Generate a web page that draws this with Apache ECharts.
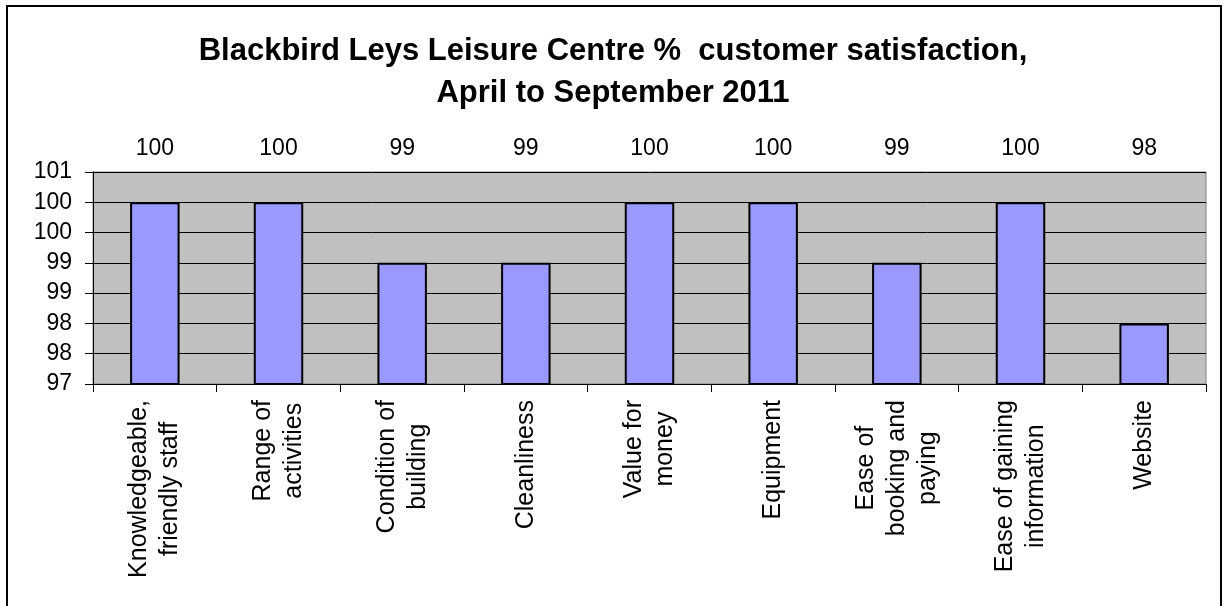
<!DOCTYPE html>
<html>
<head>
<meta charset="utf-8">
<script src="https://cdn.jsdelivr.net/npm/echarts@6/dist/echarts.min.js"></script>
<style>
  html, body { margin: 0; padding: 0; background: #fff; }
  #chart { width: 1226px; height: 606px; }
</style>
</head>
<body>
<div id="chart"></div>
<script>
const categories = [
  'Knowledgeable,\nfriendly staff',
  'Range of\nactivities',
  'Condition of\nbuilding',
  'Cleanliness',
  'Value for\nmoney',
  'Equipment',
  'Ease of\nbooking and\npaying',
  'Ease of gaining\ninformation',
  'Website'
];
const satisfaction = [100, 100, 99, 99, 100, 100, 99, 100, 98];
const yMin = 97;
const yMax = 100.5;
const yStep = 0.5;

const font = "'Liberation Sans', Arial, sans-serif";

const chart = echarts.init(document.getElementById('chart'));

const option = {
  animation: false,
  backgroundColor: '#fff',
  title: {
    text: 'Blackbird Leys Leisure Centre %  customer satisfaction,\nApril to September 2011',
    left: 'center',
    top: 25,
    textStyle: {
      fontFamily: font,
      fontSize: 31,
      fontWeight: 'bold',
      color: '#000',
      lineHeight: 42
    }
  },
  graphic: [
    {
      type: 'rect',
      shape: { x: 7, y: 6, width: 1214, height: 640 },
      style: { fill: 'none', stroke: '#000', lineWidth: 2 },
      silent: true
    }
  ],
  grid: {
    left: 93,
    right: 20,
    top: 172,
    bottom: 222,
    show: true,
    backgroundColor: '#C0C0C0',
    borderColor: '#808080',
    borderWidth: 1
  },
  xAxis: {
    type: 'category',
    data: categories,
    axisLine: { lineStyle: { color: '#000', width: 1 } },
    axisTick: { show: true, length: 8, lineStyle: { color: '#000' } },
    axisLabel: {
      rotate: 90,
      margin: 16,
      interval: 0,
      color: '#000',
      fontFamily: font,
      fontSize: 25,
      formatter: v => v.split('\n').map(s => '{c|' + s + '}').join('\n'),
      rich: {
        c: { align: 'center', fontFamily: font, fontSize: 25, lineHeight: 31, color: '#000' }
      }
    }
  },
  yAxis: {
    type: 'value',
    min: yMin,
    max: yMax,
    interval: yStep,
    axisLine: { show: true, lineStyle: { color: '#000', width: 1 } },
    axisTick: { show: true, length: 8, lineStyle: { color: '#000' } },
    axisLabel: {
      margin: 21,
      color: '#000',
      fontFamily: font,
      fontSize: 23,
      formatter: v => String(Math.round(v))
    },
    splitLine: { show: true, lineStyle: { color: '#000', width: 1 } }
  },
  series: [
    {
      type: 'bar',
      data: satisfaction,
      barWidth: '40%',
      itemStyle: { color: '#9999FF', borderColor: '#000', borderWidth: 2 }
    },
    {
      // value labels, shown in a row above the plot area
      type: 'bar',
      data: satisfaction.map(() => yMax),
      barWidth: '40%',
      barGap: '-100%',
      itemStyle: { color: 'rgba(0,0,0,0)' },
      silent: true,
      label: {
        show: true,
        position: 'top',
        distance: 12,
        color: '#000',
        fontFamily: font,
        fontSize: 23,
        formatter: p => String(satisfaction[p.dataIndex])
      }
    }
  ]
};

chart.setOption(option);
</script>
</body>
</html>
